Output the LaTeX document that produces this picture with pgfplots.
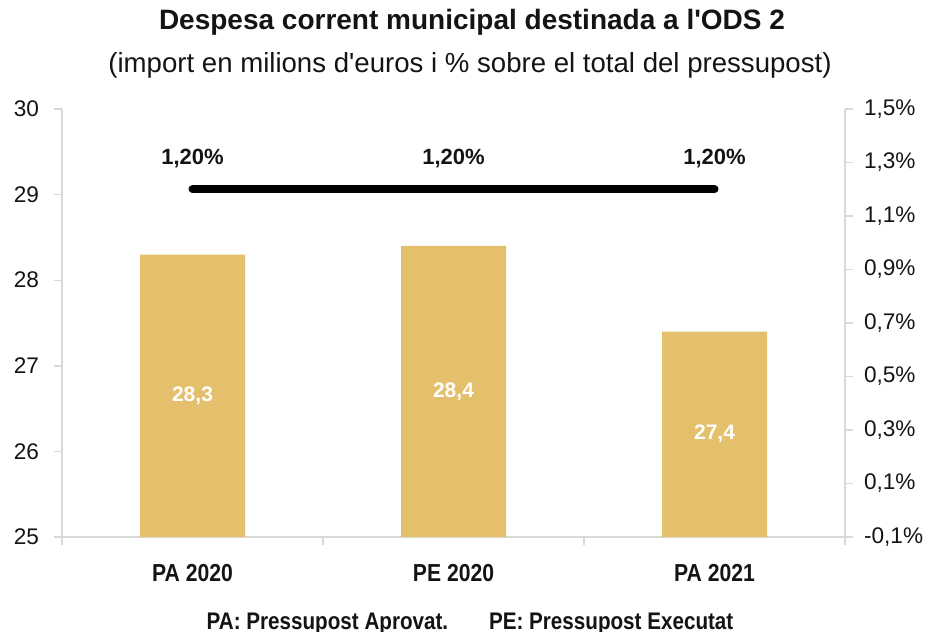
\documentclass[border=0pt]{standalone}
\usepackage{fontspec}
\setmainfont{Liberation Sans}
\newfontfamily\narrowf[FakeStretch=0.86]{Liberation Sans}
\usepackage{pgfplots}
\pgfplotsset{compat=1.18}
\usepackage{pgfplotstable}

\definecolor{barc}{RGB}{228,192,108}
\definecolor{axc}{RGB}{217,217,217}
\definecolor{txt}{RGB}{20,20,20}

% bar values and the height where each value label sits (middle of the bar)
\pgfplotstableread{
x val mid lab
0 28.3 26.65 28,3
1 28.4 26.70 28,4
2 27.4 26.20 27,4
}\bars

\begin{document}
\begin{tikzpicture}
\pgfplotsset{
  base/.style={
    scale only axis, width=391.5pt, height=214pt,
    xmin=-0.5, xmax=2.5,
    tick align=outside, major tick length=4pt,
    tick style={axc, line width=0.7pt},
    axis line style={axc, line width=0.7pt},
    tick label style={font=\fontsize{11.3}{13}\selectfont, text=txt},
    /pgf/number format/assume math mode=true,
  },
}
\begin{axis}[base,
  ymin=25, ymax=30, ytick={25,26,27,28,29,30},
  separate axis lines, axis x line*=bottom, axis y line*=left,
  xtick={-0.5,0.5,1.5,2.5}, xticklabels={},
  extra x ticks={0,1,2},
  extra x tick labels={PA 2020,PE 2020,PA 2021},
  extra x tick style={major tick length=0pt,
    tick label style={font=\narrowf\bfseries\fontsize{12.3}{14}\selectfont, yshift=-10pt}},
  yticklabel style={xshift=-4pt},
]
\addplot[ybar, bar width=52.5pt, fill=barc, draw=none] table[x=x, y=val] {\bars};
\addplot[draw=none, mark=none, nodes near coords, point meta=explicit symbolic,
  nodes near coords style={anchor=center, text=white, font=\bfseries\fontsize{10.5}{12}\selectfont}]
  table[x=x, y=mid, meta=lab] {\bars};
\end{axis}
\begin{axis}[base,
  ymin=-0.1, ymax=1.5, ytick={-0.1,0.1,0.3,0.5,0.7,0.9,1.1,1.3,1.5},
  axis x line=none, axis y line*=right,
  yticklabel={\pgfmathprintnumber[fixed,fixed zerofill,precision=1,use comma]{\tick}\%},
  yticklabel style={xshift=2pt},
]
\addplot[black, line width=4pt, line cap=round, mark=none,
  nodes near coords={\pgfmathprintnumber[fixed,fixed zerofill,precision=2,use comma]{\pgfplotspointmeta}\%},
  nodes near coords style={anchor=center, yshift=15.5pt, text=txt, font=\bfseries\fontsize{11}{13}\selectfont}]
  coordinates {(0,1.2) (1,1.2) (2,1.2)};
\end{axis}
\node[font=\bfseries\fontsize{14}{16}\selectfont, text=txt] at (205pt,257.5pt) {Despesa corrent municipal destinada a l\textquotesingle ODS 2};
\node[font=\fontsize{13.8}{16}\selectfont, text=txt] at (204pt,236pt) {(import en milions d\textquotesingle euros i \% sobre el total del pressupost)};
\node[anchor=base, font=\narrowf\bfseries\fontsize{12}{14}\selectfont, text=txt] at (204pt,-46.3pt) {PA: Pressupost Aprovat.\hspace{1.7em}PE: Pressupost Executat};
\pgfresetboundingbox
\useasboundingbox (-31pt,-47pt) rectangle (433.5pt,268.5pt);
\end{tikzpicture}
\end{document}
